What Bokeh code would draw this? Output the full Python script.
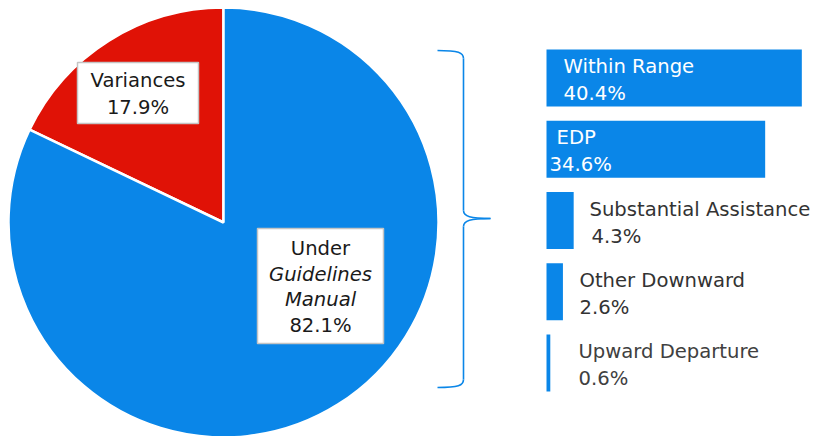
import numpy as np
from bokeh.plotting import figure
from bokeh.models import Range1d, ColumnDataSource
from bokeh.core.properties import value
from bokeh.embed import file_html
from bokeh.resources import INLINE

# ---------------- data ----------------
pie_categories = ["Variances", "Under Guidelines Manual"]
pie_values = [17.9, 82.1]
pie_colors = ["#E01206", "#0A86E8"]

bar_categories = ["Within Range", "EDP", "Substantial Assistance", "Other Downward", "Upward Departure"]
bar_values = [40.4, 34.6, 4.3, 2.6, 0.6]
bar_labels = ["40.4%", "34.6%", "4.3%", "2.6%", "0.6%"]

# ---------------- layout (image pixel coordinates) ----------------
IMG_H = 436
W, H = 815, 436
OX, OY = 0, 0
def Y(img_y):
    return IMG_H - img_y

FONT = "DejaVu Sans"
FS = "19.6px"
BLUE = "#0A86E8"

p = figure(width=W, height=H, output_backend="svg", toolbar_location=None,
           x_range=Range1d(OX, OX + W), y_range=Range1d(Y(OY + H), Y(OY)),
           x_axis_type=None, y_axis_type=None, min_border=0)
p.grid.visible = False
p.outline_line_color = None
p.background_fill_color = "white"
p.border_fill_color = "white"

# ---------------- pie ----------------
cx, cy, r = 223, Y(222), 215
fr = np.array(pie_values) / sum(pie_values)
ends = np.pi / 2 + np.cumsum(fr) * 2 * np.pi
starts = np.concatenate([[np.pi / 2], ends[:-1]])
pie_src = ColumnDataSource(dict(start=starts, end=ends, color=pie_colors, cat=pie_categories))
p.wedge(x=cx, y=cy, radius=r, start_angle="start", end_angle="end", direction="anticlock",
        fill_color="color", line_color="white", line_width=2.5, source=pie_src)

# label boxes
p.quad(left=[77, 257], right=[198, 383], top=[Y(62), Y(228)], bottom=[Y(123), Y(343)],
       fill_color="white", line_color="#C4C4C4", line_width=1.5)

var_lines = ["Variances", f"{pie_values[0]}%"]
und_lines = ["Under", "Guidelines", "Manual", f"{pie_values[1]}%"]
pie_txt = ColumnDataSource(dict(
    x=[137.5, 137.5] + [320] * 4,
    y=[Y(80), Y(107)] + [Y(248 + 25.7 * i) for i in range(4)],
    t=var_lines + und_lines,
    style=["normal", "normal", "normal", "italic", "italic", "normal"],
))
p.text(x="x", y="y", text="t", source=pie_txt, text_font=value(FONT), text_font_size=FS,
       text_font_style="style", text_align="center", text_baseline="middle", text_color="#1A1A1A")

# ---------------- brace ----------------
bz = ColumnDataSource(dict(
    x0=[437, 463, 490, 463], y0=[Y(50), Y(210), Y(218), Y(379)],
    x1=[463, 490, 463, 437], y1=[Y(58), Y(218), Y(226), Y(387)],
    cx0=[458, 463, 470, 463], cy0=[Y(50), Y(216), Y(218), Y(385)],
    cx1=[463, 470, 463, 458], cy1=[Y(52), Y(218), Y(220), Y(387)],
))
p.bezier(x0="x0", y0="y0", x1="x1", y1="y1", cx0="cx0", cy0="cy0", cx1="cx1", cy1="cy1",
         line_color=BLUE, line_width=1.6, source=bz)
p.segment(x0=[463, 463], y0=[Y(58), Y(226)], x1=[463, 463], y1=[Y(210), Y(379)],
          line_color=BLUE, line_width=1.6)

# ---------------- bars (own scales via extra ranges) ----------------
x0_px, px_per_pct = 546, 6.32
row0_px, row_step = 77.5, 71.25
p.extra_x_ranges = {"pct": Range1d((OX - x0_px) / px_per_pct, (OX + W - x0_px) / px_per_pct)}
p.extra_y_ranges = {"row": Range1d((OY + H - row0_px) / row_step, (OY - row0_px) / row_step)}

rows = list(range(len(bar_values)))
bar_src = ColumnDataSource(dict(row=rows, val=bar_values, cat=bar_categories, lab=bar_labels))
p.hbar(y="row", left=0, right="val", height=57 / row_step, fill_color=BLUE, line_color=None,
       x_range_name="pct", y_range_name="row", source=bar_src)

name_off = [17, 10, 43, 33, 32]
val_off = [17, 3, 45, 33, 32]
txt_col = ["white", "white", "#333333", "#333333", "#404040"]
lab_src = ColumnDataSource(dict(
    x=[0] * 10, y=rows + rows,
    t=bar_categories + bar_labels,
    xo=name_off + val_off,
    yo=[-11.5] * 5 + [15.5] * 5,
    c=txt_col + txt_col,
))
p.text(x="x", y="y", text="t", x_offset="xo", y_offset="yo", text_color="c",
       text_font=value(FONT), text_font_size=FS, text_align="left", text_baseline="middle",
       x_range_name="pct", y_range_name="row", source=lab_src)

open("out.html", "w").write(file_html(p, INLINE))
